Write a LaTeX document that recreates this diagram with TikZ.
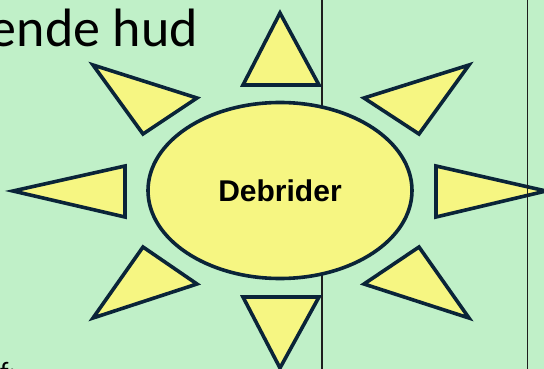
\documentclass[tikz,border=0pt]{standalone}
\usepackage{fontspec}
\setmainfont{Carlito}
\newfontfamily\arialfont{Liberation Sans}
\usepackage{tikz}
\usetikzlibrary{shapes.geometric}
\usepackage{xcolor}
\definecolor{SlideGreen}{RGB}{192,240,200}
\definecolor{SunYellow}{RGB}{246,246,130}
\definecolor{SunEdge}{RGB}{10,36,56}
\definecolor{RuleGray}{RGB}{30,30,30}

\tikzset{
  ray/.style={draw=SunEdge,fill=SunYellow,line width=3.6pt,line join=miter},
  core/.style={ellipse,draw=SunEdge,fill=SunYellow,line width=3.6pt,
               minimum width=264pt,minimum height=176pt,inner sep=0pt,
               font=\arialfont\bfseries\fontsize{30}{36}\selectfont},
  rule/.style={draw=RuleGray,line width=1.2pt}
}

\begin{document}
\begin{tikzpicture}[x=1pt,y=-1pt]
  \useasboundingbox (0,0) rectangle (544,369);
  % background
  \fill[SlideGreen] (0,0) rectangle (544,369);
  % table rule behind the sun
  \draw[rule] (322,-5) -- (322,375);
  % slide text
  \node[anchor=base east,inner sep=0pt,font=\fontsize{54}{60}\selectfont]
    (title) at (198,47) {ende hud};
  \node[anchor=base west,inner sep=0pt,font=\fontsize{28}{32}\selectfont]
    (tail) at (0,381) {f:};
  % rays
  \draw[ray] (280,13) -- (243,85) -- (319,85) -- cycle;
  \draw[ray] (93,65) -- (197,98) -- (143,134) -- cycle;
  \draw[ray] (469,65) -- (364,98) -- (419,134) -- cycle;
  \draw[ray] (13,191) -- (125,166) -- (125,217) -- cycle;
  \draw[ray] (546,191) -- (436,166) -- (436,217) -- cycle;
  \draw[ray] (143,247) -- (197,284) -- (93,318) -- cycle;
  \draw[ray] (419,247) -- (364,284) -- (469,318) -- cycle;
  \draw[ray] (243,297) -- (319,297) -- (280,368) -- cycle;
  % centre
  \node[core] (debrider) at (280,190.5) {Debrider};
  % right table rule
  \draw[rule] (527.5,-5) -- (527.5,375);
\end{tikzpicture}
\end{document}
